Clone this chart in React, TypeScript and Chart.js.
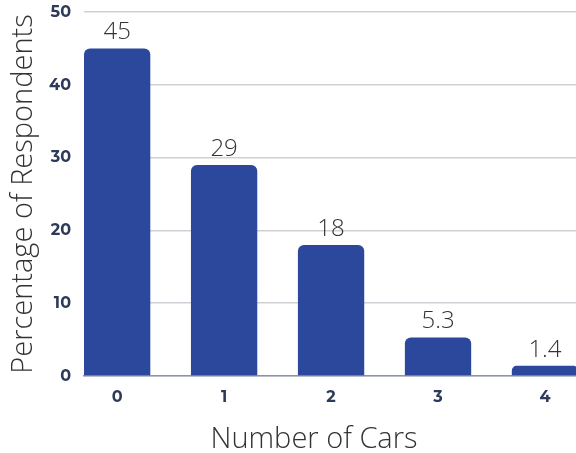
import React, { useEffect, useRef } from "react";
import { Chart, registerables } from "chart.js";

Chart.register(...registerables);

const carCounts = [0, 1, 2, 3, 4];
const respondentShares = [45, 29, 18, 5.3, 1.4];
const valueLabels = ["45", "29", "18", "5.3", "1.4"];
const yTicks = [0, 10, 20, 30, 40, 50];

const BAR_BLUE = "#2B489C";
const TEXT_DARK = "#333333";
const TICK_NAVY = "#2E3A59";
const LIGHT_FONT = "'Open Sans', 'Noto Sans', sans-serif";
const TICK_FONT = "Montserrat, 'Noto Sans', sans-serif";

// Writes each bar's value above it.
const valueLabelPlugin = {
  id: "valueLabels",
  afterDatasetsDraw(chart: any) {
    const { ctx } = chart;
    const meta = chart.getDatasetMeta(0);
    ctx.save();
    ctx.font = `300 24px ${LIGHT_FONT}`;
    ctx.fillStyle = TEXT_DARK;
    ctx.textAlign = "center";
    ctx.textBaseline = "bottom";
    meta.data.forEach((bar: any, i: number) => {
      ctx.fillText(valueLabels[i], bar.x, bar.y - 4);
    });
    ctx.restore();
  },
};

// Horizontal axis caption under the tick labels.
const xCaptionPlugin = {
  id: "xCaption",
  afterDraw(chart: any) {
    const { ctx, chartArea } = chart;
    ctx.save();
    ctx.font = `300 29px ${LIGHT_FONT}`;
    ctx.fillStyle = TEXT_DARK;
    ctx.textAlign = "center";
    ctx.textBaseline = "alphabetic";
    ctx.fillText("Number of Cars", chartArea.left + 230, chartArea.bottom + 72);
    ctx.restore();
  },
};

export default function App() {
  const canvasRef = useRef<HTMLCanvasElement>(null);

  useEffect(() => {
    document.body.style.margin = "0";
    const canvas = canvasRef.current;
    if (!canvas) return;
    const chart = new Chart(canvas, {
      type: "bar",
      data: {
        datasets: [
          {
            data: carCounts.map((c, i) => ({ x: c, y: respondentShares[i] })),
            backgroundColor: BAR_BLUE,
            borderRadius: { topLeft: 6, topRight: 6, bottomLeft: 0, bottomRight: 0 },
            borderSkipped: "start",
            barPercentage: 0.62,
            categoryPercentage: 1,
          },
        ],
      },
      options: {
        animation: false,
        responsive: false,
        maintainAspectRatio: false,
        layout: { padding: { top: 12, right: 0, left: 0, bottom: 0 } },
        plugins: {
          legend: { display: false },
          tooltip: { enabled: false },
        },
        scales: {
          x: {
            type: "linear",
            offset: false,
            min: -0.31,
            max: 4.29,
            afterBuildTicks: (scale: any) => {
              scale.ticks = carCounts.map((v) => ({ value: v }));
            },
            afterFit: (scale: any) => {
              scale.height = 77;
              scale.paddingLeft = 0;
              scale.paddingRight = 0;
            },
            grid: { display: false, drawTicks: false, offset: false },
            border: { display: true, color: "#8C95A3", width: 1.5 },
            ticks: {
              padding: 12,
              color: TICK_NAVY,
              font: { family: TICK_FONT, size: 16, weight: "bold" },
              callback: (v: any) => String(v),
            },
          },
          y: {
            min: 0,
            max: 50,
            afterBuildTicks: (scale: any) => {
              scale.ticks = yTicks.map((v) => ({ value: v }));
            },
            afterFit: (scale: any) => {
              scale.width = 84;
              scale.paddingTop = 0;
              scale.paddingBottom = 0;
            },
            grid: { color: "#CDD1D6", lineWidth: 1.5, drawTicks: false },
            border: { display: false },
            ticks: {
              padding: 13,
              color: TICK_NAVY,
              font: { family: TICK_FONT, size: 16, weight: "bold" },
            },
            title: {
              display: true,
              text: "Percentage of Respondents",
              color: TEXT_DARK,
              font: { family: LIGHT_FONT, size: 29, weight: "300" },
              padding: { top: 6, bottom: 0 },
            },
          },
        },
      },
      plugins: [valueLabelPlugin, xCaptionPlugin],
    });
    return () => chart.destroy();
  }, []);

  return (
    <div style={{ position: "absolute", left: 0, top: 0, width: 576, height: 453, background: "#fff" }}>
      <canvas ref={canvasRef} width={576} height={453} style={{ width: 576, height: 453 }} />
    </div>
  );
}
